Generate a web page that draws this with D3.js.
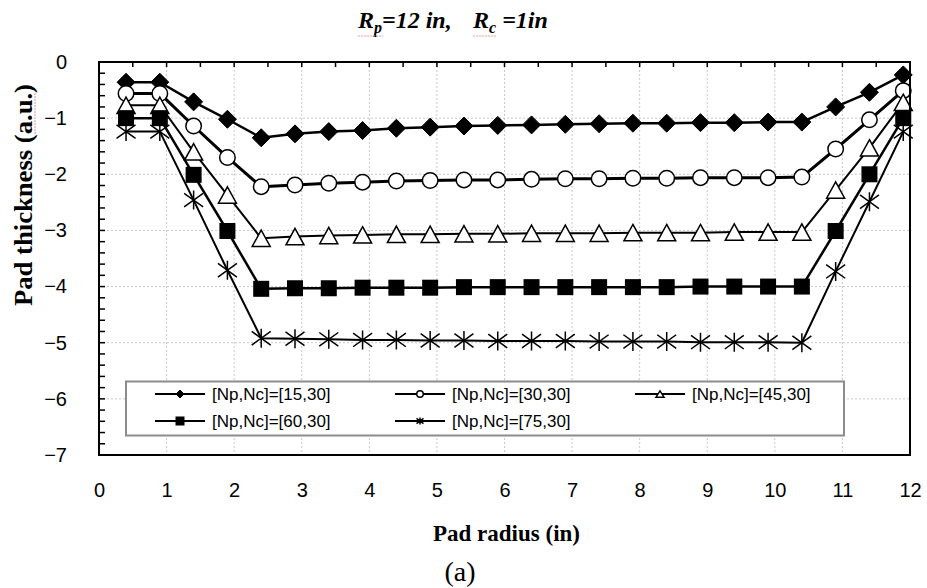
<!DOCTYPE html>
<html><head><meta charset="utf-8">
<script src="https://cdn.jsdelivr.net/npm/d3@7"></script>
<style>
html,body{margin:0;padding:0;background:#fff;}
svg{display:block;}
text{white-space:pre;}
</style></head>
<body>
<script>
// ---- data ----
const radius = [0.4,0.9,1.4,1.9,2.4,2.9,3.4,3.9,4.4,4.9,5.4,5.9,6.4,6.9,7.4,7.9,8.4,8.9,9.4,9.9,10.4,10.9,11.4,11.9];
const np15 = [-0.36,-0.36,-0.71,-1.02,-1.35,-1.28,-1.24,-1.22,-1.18,-1.16,-1.14,-1.13,-1.12,-1.11,-1.10,-1.09,-1.09,-1.08,-1.08,-1.07,-1.07,-0.80,-0.54,-0.23];
const np30 = [-0.56,-0.56,-1.14,-1.70,-2.22,-2.19,-2.16,-2.14,-2.12,-2.11,-2.10,-2.10,-2.09,-2.08,-2.08,-2.07,-2.07,-2.06,-2.06,-2.06,-2.05,-1.55,-1.03,-0.51];
const np45 = [-0.77,-0.77,-1.60,-2.37,-3.14,-3.11,-3.09,-3.08,-3.07,-3.07,-3.06,-3.06,-3.05,-3.05,-3.05,-3.04,-3.04,-3.04,-3.03,-3.03,-3.03,-2.28,-1.53,-0.72];
const np60 = [-1.00,-1.00,-2.01,-3.01,-4.04,-4.03,-4.03,-4.02,-4.02,-4.02,-4.01,-4.01,-4.01,-4.01,-4.01,-4.01,-4.01,-4.00,-4.00,-4.00,-4.00,-3.01,-2.00,-1.00];
const np75 = [-1.24,-1.24,-2.46,-3.71,-4.92,-4.93,-4.94,-4.95,-4.95,-4.96,-4.96,-4.97,-4.97,-4.97,-4.98,-4.98,-4.98,-4.99,-4.99,-4.99,-5.00,-3.73,-2.49,-1.24];
const seriesNames = ["[Np,Nc]=[15,30]","[Np,Nc]=[30,30]","[Np,Nc]=[45,30]","[Np,Nc]=[60,30]","[Np,Nc]=[75,30]"];
const xTicks = [0,1,2,3,4,5,6,7,8,9,10,11,12];
const yTicks = [0,-1,-2,-3,-4,-5,-6,-7];
const xTitle = "Pad radius (in)";
const yTitle = "Pad thickness (a.u.)";
const caption = "(a)";

// ---- layout ----
const W = 927, H = 588;
const L = 99, R = 910, T = 62, B = 455;
const svg = d3.select("body").append("svg").attr("width", W).attr("height", H);
const x = d3.scaleLinear().domain([0,12]).range([L,R]);
const y = d3.scaleLinear().domain([-7,0]).range([B,T]);

const series = [
  {name: seriesNames[0], values: np15, marker: "diamond", lw: 2.5},
  {name: seriesNames[1], values: np30, marker: "circle",  lw: 3},
  {name: seriesNames[2], values: np45, marker: "triangle",lw: 2},
  {name: seriesNames[3], values: np60, marker: "square",  lw: 2.5},
  {name: seriesNames[4], values: np75, marker: "star",    lw: 2}
];

// grid
const g = svg.append("g");
g.selectAll("line.vg").data(d3.range(1,12)).join("line")
  .attr("x1", d=>x(d)).attr("x2", d=>x(d)).attr("y1", T).attr("y2", B)
  .attr("stroke", "#c8c8c8").attr("stroke-width", 1).attr("stroke-dasharray", "2,2");
g.selectAll("line.hg").data(d3.range(-6,0)).join("line")
  .attr("y1", d=>y(d)).attr("y2", d=>y(d)).attr("x1", L).attr("x2", R)
  .attr("stroke", "#c8c8c8").attr("stroke-width", 1).attr("stroke-dasharray", "2,2");

// ticks (inward)
svg.append("g").selectAll("line").data(d3.range(0,36)).join("line")
  .attr("x1", L).attr("x2", L+6)
  .attr("y1", d=>y(-d*0.2)).attr("y2", d=>y(-d*0.2))
  .attr("stroke","#000").attr("stroke-width",1.5);
svg.append("g").selectAll("line").data(d3.range(1,24)).join("line")
  .attr("x1", d=>x(d*0.5)).attr("x2", d=>x(d*0.5))
  .attr("y1", T).attr("y2", T+5)
  .attr("stroke","#000").attr("stroke-width",1.5);

// axes labels via d3 axes
const fmt = d => d3.format("d")(d).replace("-", "\u2212");
const xa = svg.append("g").attr("transform", `translate(0,${B})`)
  .call(d3.axisBottom(x).tickValues(xTicks).tickSize(0).tickPadding(0).tickFormat(fmt));
xa.select(".domain").remove();
xa.selectAll("text").attr("dy", null).attr("y", 42)
  .style("font-family","'Liberation Sans', Arial, sans-serif").style("font-size","20px").attr("fill","#000");
const ya = svg.append("g").attr("transform", `translate(${L},0)`)
  .call(d3.axisLeft(y).tickValues(yTicks).tickSize(0).tickPadding(0).tickFormat(fmt));
ya.select(".domain").remove();
ya.selectAll("text").attr("x", -32).attr("dy", "0.32em")
  .style("font-family","'Liberation Sans', Arial, sans-serif").style("font-size","20px").attr("fill","#000");

// legend box
const lg = svg.append("g");
lg.append("rect").attr("x",126).attr("y",381.5).attr("width",718).attr("height",54)
  .attr("fill","#fff").attr("stroke","#8c8c8c").attr("stroke-width",2);

// markers
function drawMarker(sel, type, cx, cy, s) {
  const h = s/2;
  if (type === "diamond") {
    sel.append("path").attr("d", `M${cx},${cy-h}L${cx+h},${cy}L${cx},${cy+h}L${cx-h},${cy}Z`)
      .attr("fill","#000").attr("stroke","#000").attr("stroke-width",1);
  } else if (type === "circle") {
    sel.append("circle").attr("cx",cx).attr("cy",cy).attr("r",h-0.75)
      .attr("fill","#fff").attr("stroke","#000").attr("stroke-width",1.5);
  } else if (type === "triangle") {
    sel.append("path").attr("d", `M${cx},${cy-h+0.8}L${cx+h},${cy+h-0.8}L${cx-h},${cy+h-0.8}Z`)
      .attr("fill","#fff").attr("stroke","#000").attr("stroke-width",1.5).attr("stroke-linejoin","miter");
  } else if (type === "square") {
    sel.append("rect").attr("x",cx-h).attr("y",cy-h).attr("width",s).attr("height",s)
      .attr("fill","#000");
  } else if (type === "star") {
    const a = h*0.72;
    sel.append("path").attr("d", `M${cx},${cy-h}L${cx},${cy+h}M${cx-h},${cy-a}L${cx+h},${cy+a}M${cx-h},${cy+a}L${cx+h},${cy-a}`)
      .attr("stroke","#000").attr("stroke-width",1.5).attr("fill","none");
  }
}
const sizes = {diamond: 18, circle: 17, triangle: 18, square: 16, star: 19};
const legendSizes = {diamond: 8, circle: 8, triangle: 8, square: 9, star: 7};

// series
const lineGen = d3.line().x(d=>x(d[0])).y(d=>y(d[1]));
const plot = svg.append("g");
series.forEach(s => {
  const pts = radius.map((r,i)=>[r, s.values[i]]);
  plot.append("path").attr("d", lineGen(pts)).attr("fill","none")
    .attr("stroke","#000").attr("stroke-width", s.lw).attr("stroke-linejoin","round");
});
series.forEach(s => {
  const mg = plot.append("g");
  radius.forEach((r,i) => drawMarker(mg, s.marker, x(r), y(s.values[i]), sizes[s.marker]));
});

// legend entries
const legendPos = [[155,394],[395,394],[635,394],[155,421],[395,421]];
series.forEach((s,i) => {
  const [lx, ly] = legendPos[i];
  lg.append("line").attr("x1",lx).attr("x2",lx+50).attr("y1",ly).attr("y2",ly)
    .attr("stroke","#000").attr("stroke-width",2.2);
  drawMarker(lg, s.marker, lx+25, ly, legendSizes[s.marker]);
  lg.append("text").attr("x", lx+57).attr("y", ly).attr("dy","0.35em")
    .style("font-family","'Liberation Sans', Arial, sans-serif").style("font-size","17px")
    .text(s.name);
});

// frame
svg.append("rect").attr("x",L).attr("y",T).attr("width",R-L).attr("height",B-T)
  .attr("fill","none").attr("stroke","#000").attr("stroke-width",2);

// titles
const title = svg.append("text").attr("y",28)
  .style("font-family","'Liberation Serif', 'Times New Roman', serif")
  .style("font-weight","bold").style("font-style","italic").style("font-size","24px");
title.append("tspan").attr("x",358).text("R");
title.append("tspan").attr("dy",5).style("font-size","16px").text("p");
title.append("tspan").attr("dy",-5).text("=12 in,");
title.append("tspan").attr("x",473).text("R");
title.append("tspan").attr("dy",5).style("font-size","16px").text("c");
title.append("tspan").attr("dy",-5).text(" =1in");
// spell-check squiggles (as in the source document)
svg.append("line").attr("x1",358).attr("x2",383).attr("y1",36).attr("y2",36)
  .attr("stroke","#f0a0a0").attr("stroke-width",1.2).attr("stroke-dasharray","2,1");
svg.append("line").attr("x1",473).attr("x2",496).attr("y1",36).attr("y2",36)
  .attr("stroke","#f0a0a0").attr("stroke-width",1.2).attr("stroke-dasharray","2,1");

svg.append("text").attr("x", (L+R)/2 + 2).attr("y", 541).attr("text-anchor","middle")
  .style("font-family","'Liberation Serif', 'Times New Roman', serif")
  .style("font-weight","bold").style("font-size","23px").text(xTitle);
svg.append("text").attr("transform", `translate(32,195) rotate(-90)`).attr("text-anchor","middle")
  .attr("textLength", 222).attr("lengthAdjust","spacingAndGlyphs")
  .style("font-family","'Liberation Serif', 'Times New Roman', serif")
  .style("font-weight","bold").style("font-size","25px").text(yTitle);
svg.append("line").attr("x1",35).attr("x2",35).attr("y1",93).attr("y2",134)
  .attr("stroke","#f0a0a0").attr("stroke-width",1.2).attr("stroke-dasharray","2,1");
svg.append("text").attr("x", 460).attr("y", 581).attr("text-anchor","middle")
  .style("font-family","'Liberation Serif', 'Times New Roman', serif")
  .style("font-size","28px").text(caption);
</script>
</body></html>
